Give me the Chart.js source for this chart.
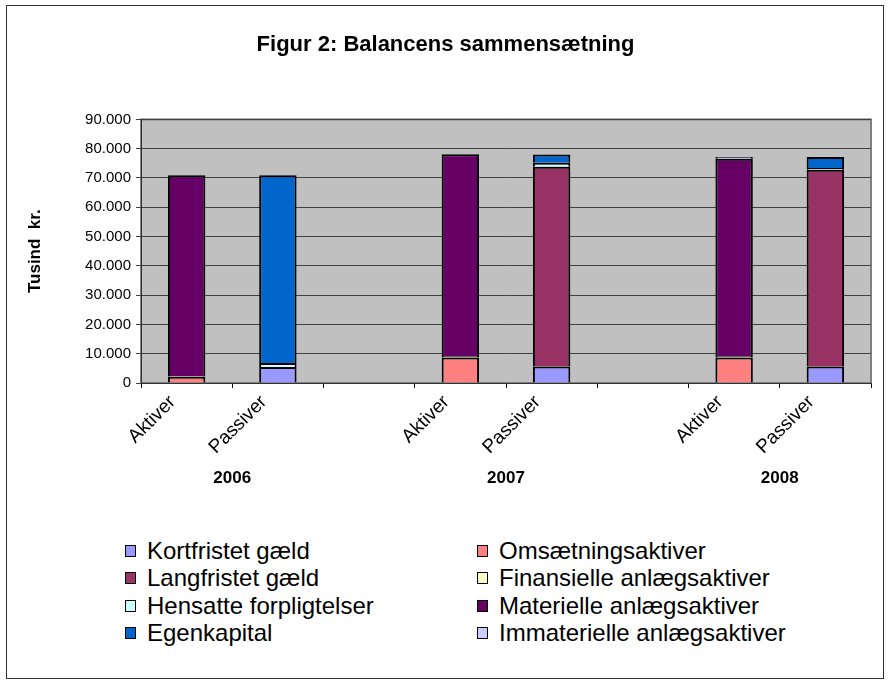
<!DOCTYPE html>
<html>
<head>
<meta charset="utf-8">
<script src="https://cdn.jsdelivr.net/npm/chart.js@4"></script>
<style>
  body { margin: 0; background: #fff; font-family: Arial, "Liberation Sans", sans-serif; }
  #wrap { position: relative; width: 890px; height: 684px; }
  #frame { position: absolute; left: 6px; top: 5px; width: 876px; height: 672px; border: 1px solid #333; }
  #chart { position: absolute; left: 0; top: 0; }
  #legend { position: absolute; left: 125px; top: 537px; display: grid; grid-template-columns: 352px 340px; row-gap: 0; font-size: 24px; color: #000; }
  #legend div { display: flex; align-items: center; height: 27.5px; white-space: nowrap; }
  #legend span { display: inline-block; width: 9px; height: 10px; border: 1px solid #000; margin-right: 11px; }
</style>
</head>
<body>
<div id="wrap">
  <div id="frame"></div>
  <canvas id="chart" width="890" height="493"></canvas>
  <div id="legend"></div>
</div>
<script>
const categories = ['Aktiver', 'Passiver', '', 'Aktiver', 'Passiver', '', 'Aktiver', 'Passiver'];
const years = ['2006', '2007', '2008'];
const yearPositions = [1, 4, 7];
const yTicks = [0, 10000, 20000, 30000, 40000, 50000, 60000, 70000, 80000, 90000];

// tusind kr.
const kortfristet  = [null, 5500, null, null, 5600, null, null, 5600];
const omsaetning   = [2100, null, null, 8700, null, null, 8700, null];
const langfristet  = [null, null, null, null, 68200, null, null, 67200];
const finansielle  = [200, null, null, 500, null, null, 500, null];
const hensatte     = [null, 1300, null, null, 1400, null, null, 600];
const materielle   = [68600, null, null, 68900, null, null, 67400, null];
const egenkapital  = [null, 64100, null, null, 2800, null, null, 3800];
const immaterielle = [null, null, null, null, null, null, 600, null];

const seriesNames = ['Kortfristet gæld', 'Omsætningsaktiver', 'Langfristet gæld', 'Finansielle anlægsaktiver',
  'Hensatte forpligtelser', 'Materielle anlægsaktiver', 'Egenkapital', 'Immaterielle anlægsaktiver'];
const seriesData = [kortfristet, omsaetning, langfristet, finansielle, hensatte, materielle, egenkapital, immaterielle];
const seriesColors = ['#9999ff', '#ff8080', '#993366', '#ffffcc', '#ccffff', '#660066', '#0066cc', '#ccccff'];

// year labels sit on the boundary between Aktiver and Passiver
const yearSlots = Array(categories.length + 1).fill('');
yearPositions.forEach((p, i) => { yearSlots[p] = years[i]; });

Chart.defaults.font.family = 'Arial, "Liberation Sans", sans-serif';
Chart.defaults.color = '#000';

const plotBg = {
  id: 'plotBg',
  beforeDraw(chart) {
    const { ctx, chartArea: a } = chart;
    ctx.save();
    ctx.fillStyle = '#c0c0c0';
    ctx.fillRect(a.left, a.top, a.width, a.height);
    ctx.strokeStyle = '#808080';
    ctx.lineWidth = 2;
    ctx.strokeRect(a.left, a.top, a.width, a.height);
    ctx.restore();
  }
};

function fmt(v) {
  return String(v).replace(/\B(?=(\d{3})+(?!\d))/g, '.');
}

const chart = new Chart(document.getElementById('chart'), {
  type: 'bar',
  data: {
    labels: categories,
    datasets: seriesNames.map((name, i) => ({
      label: name,
      data: seriesData[i],
      backgroundColor: seriesColors[i],
      borderColor: '#000',
      borderWidth: 2,
      borderSkipped: 'start',
      barPercentage: 0.41,
      categoryPercentage: 1
    }))
  },
  options: {
    responsive: false,
    animation: false,
    layout: { padding: { left: 20, right: 19, top: 0, bottom: 0 } },
    plugins: {
      legend: { display: false },
      tooltip: { enabled: false },
      title: {
        display: true,
        text: 'Figur 2: Balancens sammensætning',
        font: { size: 22, weight: 'bold' },
        padding: { top: 32, bottom: 61 }
      }
    },
    scales: {
      x: {
        stacked: true,
        weight: 0,
        grid: { offset: true, drawOnChartArea: false, drawTicks: true, tickLength: 5, color: '#000' },
        border: { color: '#333', width: 1 },
        ticks: { autoSkip: false, minRotation: 45, maxRotation: 45, padding: 3, labelOffset: -14, font: { size: 19 } },
        afterFit(scale) { scale.height = 70; }
      },
      x2: {
        type: 'category',
        labels: yearSlots,
        position: 'bottom',
        weight: 1,
        offset: false,
        grid: { display: false, drawTicks: false },
        border: { display: false },
        ticks: { autoSkip: false, maxRotation: 0, padding: 15, font: { size: 17, weight: 'bold' } },
        afterFit(scale) { scale.height = 40; }
      },
      y: {
        stacked: true,
        min: 0,
        max: 90000,
        afterBuildTicks(scale) { scale.ticks = yTicks.map(v => ({ value: v })); },
        grid: { color: '#404040', tickLength: 5 },
        border: { color: '#333', width: 1 },
        ticks: { padding: 5, font: { size: 15 }, callback: (v) => fmt(v) },
        title: {
          display: true,
          text: 'Tusind  kr.',
          font: { size: 17, weight: 'bold' },
          padding: { top: 5, bottom: 0 }
        },
        afterFit(scale) { scale.width = 121; }
      }
    }
  },
  plugins: [plotBg]
});

const legendEl = document.getElementById('legend');
chart.data.datasets.forEach(ds => {
  const item = document.createElement('div');
  const box = document.createElement('span');
  box.style.background = ds.backgroundColor;
  item.appendChild(box);
  item.appendChild(document.createTextNode(ds.label));
  legendEl.appendChild(item);
});
</script>
</body>
</html>
